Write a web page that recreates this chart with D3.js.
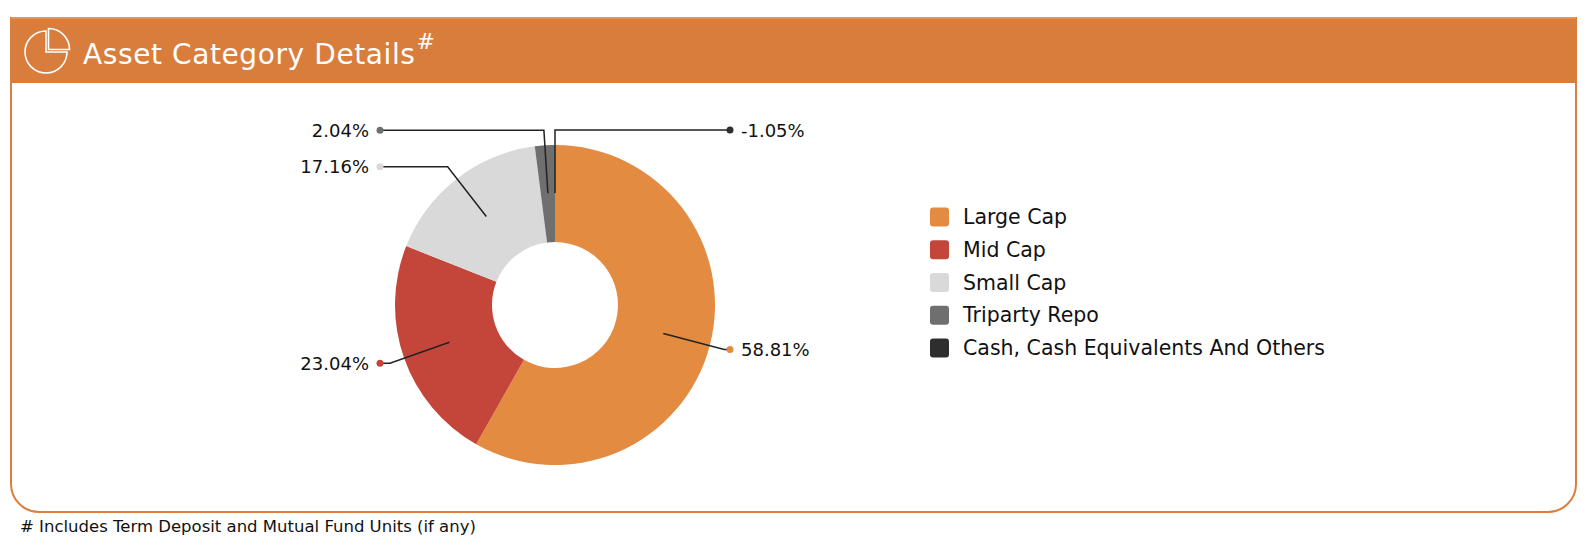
<!DOCTYPE html>
<html>
<head>
<meta charset="utf-8">
<script src="https://cdn.jsdelivr.net/npm/d3@7"></script>
<style>
  body { margin: 0; background: #fff; }
  svg text { font-family: "DejaVu Sans", sans-serif; }
</style>
</head>
<body>
<script>
const categories = ["Large Cap", "Mid Cap", "Small Cap", "Triparty Repo", "Cash, Cash Equivalents And Others"];
const values = [58.81, 23.04, 17.16, 2.04, -1.05];
const colors = ["#e38b41", "#c4463a", "#d9d9d9", "#6f6f6f", "#2e2e2e"];
const title = "Asset Category Details";
const footnote = "# Includes Term Deposit and Mutual Fund Units (if any)";

const w = 1594, h = 544;
const cx = 555, cy = 305;
const R = 160, r0 = 63, rIn = 112, rOut = 175;

const svg = d3.select("body").append("svg").attr("width", w).attr("height", h);

// card frame
const L = 11, Rt = 1576, T = 18, B = 512, cr = 28;
svg.append("path")
  .attr("d", `M${L},${T} V${B-cr} A${cr},${cr} 0 0 0 ${L+cr},${B} H${Rt-cr} A${cr},${cr} 0 0 0 ${Rt},${B-cr} V${T}`)
  .attr("fill", "none").attr("stroke", "#dc7f3e").attr("stroke-width", 2);
svg.append("rect").attr("x", L-1).attr("y", T-1).attr("width", Rt-L+2).attr("height", 66)
  .attr("fill", "#d97d3c");
svg.append("line").attr("x1", L).attr("x2", Rt).attr("y1", T).attr("y2", T)
  .attr("stroke", "#e89a62").attr("stroke-width", 1.5);

// header icon
const icon = svg.append("g").attr("fill", "none").attr("stroke", "#fff").attr("stroke-width", 1.6);
icon.append("path").attr("d", d3.arc()({innerRadius: 0, outerRadius: 21, startAngle: Math.PI/2, endAngle: 2*Math.PI}))
  .attr("transform", "translate(46,52)");
icon.append("path").attr("d", d3.arc()({innerRadius: 0, outerRadius: 21, startAngle: 0, endAngle: Math.PI/2}))
  .attr("transform", "translate(48.5,49.5)");

svg.append("text").attr("x", 83).attr("y", 64).attr("fill", "#fff")
  .attr("font-size", 28).attr("letter-spacing", 0.6).text(title)
  .append("tspan").attr("dx", 1).attr("dy", -15).attr("font-size", 22).text("#");

// donut
const pie = d3.pie().sort(null).value(d => d);
const arcs = pie(values);
const arc = d3.arc().innerRadius(r0).outerRadius(R);
const g = svg.append("g").attr("transform", `translate(${cx},${cy})`);

g.selectAll("path.slice").data(arcs).enter().append("path")
  .attr("class", "slice")
  .attr("d", arc)
  .attr("fill", (d, i) => colors[i]);

const mid = d => (d.startAngle + d.endAngle) / 2;
const pt = (a, rr) => [rr * Math.sin(a), -rr * Math.cos(a)];
const isRight = d => (mid(d) % (2*Math.PI)) < Math.PI;

g.selectAll("polyline").data(arcs).enter().append("polyline")
  .attr("fill", "none").attr("stroke", "#222").attr("stroke-width", 1.5)
  .attr("points", d => {
    const a = mid(d), p1 = pt(a, rIn), p2 = pt(a, rOut);
    const x3 = isRight(d) ? rOut : -rOut;
    return [p1, p2, [x3, p2[1]]].map(p => p.join(",")).join(" ");
  });

g.selectAll("circle.dot").data(arcs).enter().append("circle")
  .attr("class", "dot")
  .attr("cx", d => isRight(d) ? rOut : -rOut)
  .attr("cy", d => pt(mid(d), rOut)[1])
  .attr("r", 3.5)
  .attr("fill", (d, i) => colors[i]);

g.selectAll("text.lbl").data(arcs).enter().append("text")
  .attr("class", "lbl")
  .attr("x", d => isRight(d) ? rOut + 11 : -rOut - 11)
  .attr("y", d => pt(mid(d), rOut)[1])
  .attr("dominant-baseline", "central")
  .attr("text-anchor", d => isRight(d) ? "start" : "end")
  .attr("font-size", 18).attr("fill", "#111")
  .text(d => d.data.toFixed(2) + "%");

// legend
const ly = d3.scalePoint().domain(categories).range([217, 348]);
const leg = svg.append("g").selectAll("g").data(categories).enter().append("g")
  .attr("transform", d => `translate(930,${ly(d)})`);
leg.append("rect").attr("x", 0).attr("y", -9.5).attr("width", 19).attr("height", 19)
  .attr("rx", 3).attr("fill", (d, i) => colors[i]);
leg.append("text").attr("x", 33).attr("y", 0).attr("dominant-baseline", "central")
  .attr("font-size", 20.5).attr("fill", "#111").text(d => d);

svg.append("text").attr("x", 20).attr("y", 526).attr("dominant-baseline", "central")
  .attr("font-size", 16.5).attr("fill", "#111").text(footnote);
</script>
</body>
</html>
